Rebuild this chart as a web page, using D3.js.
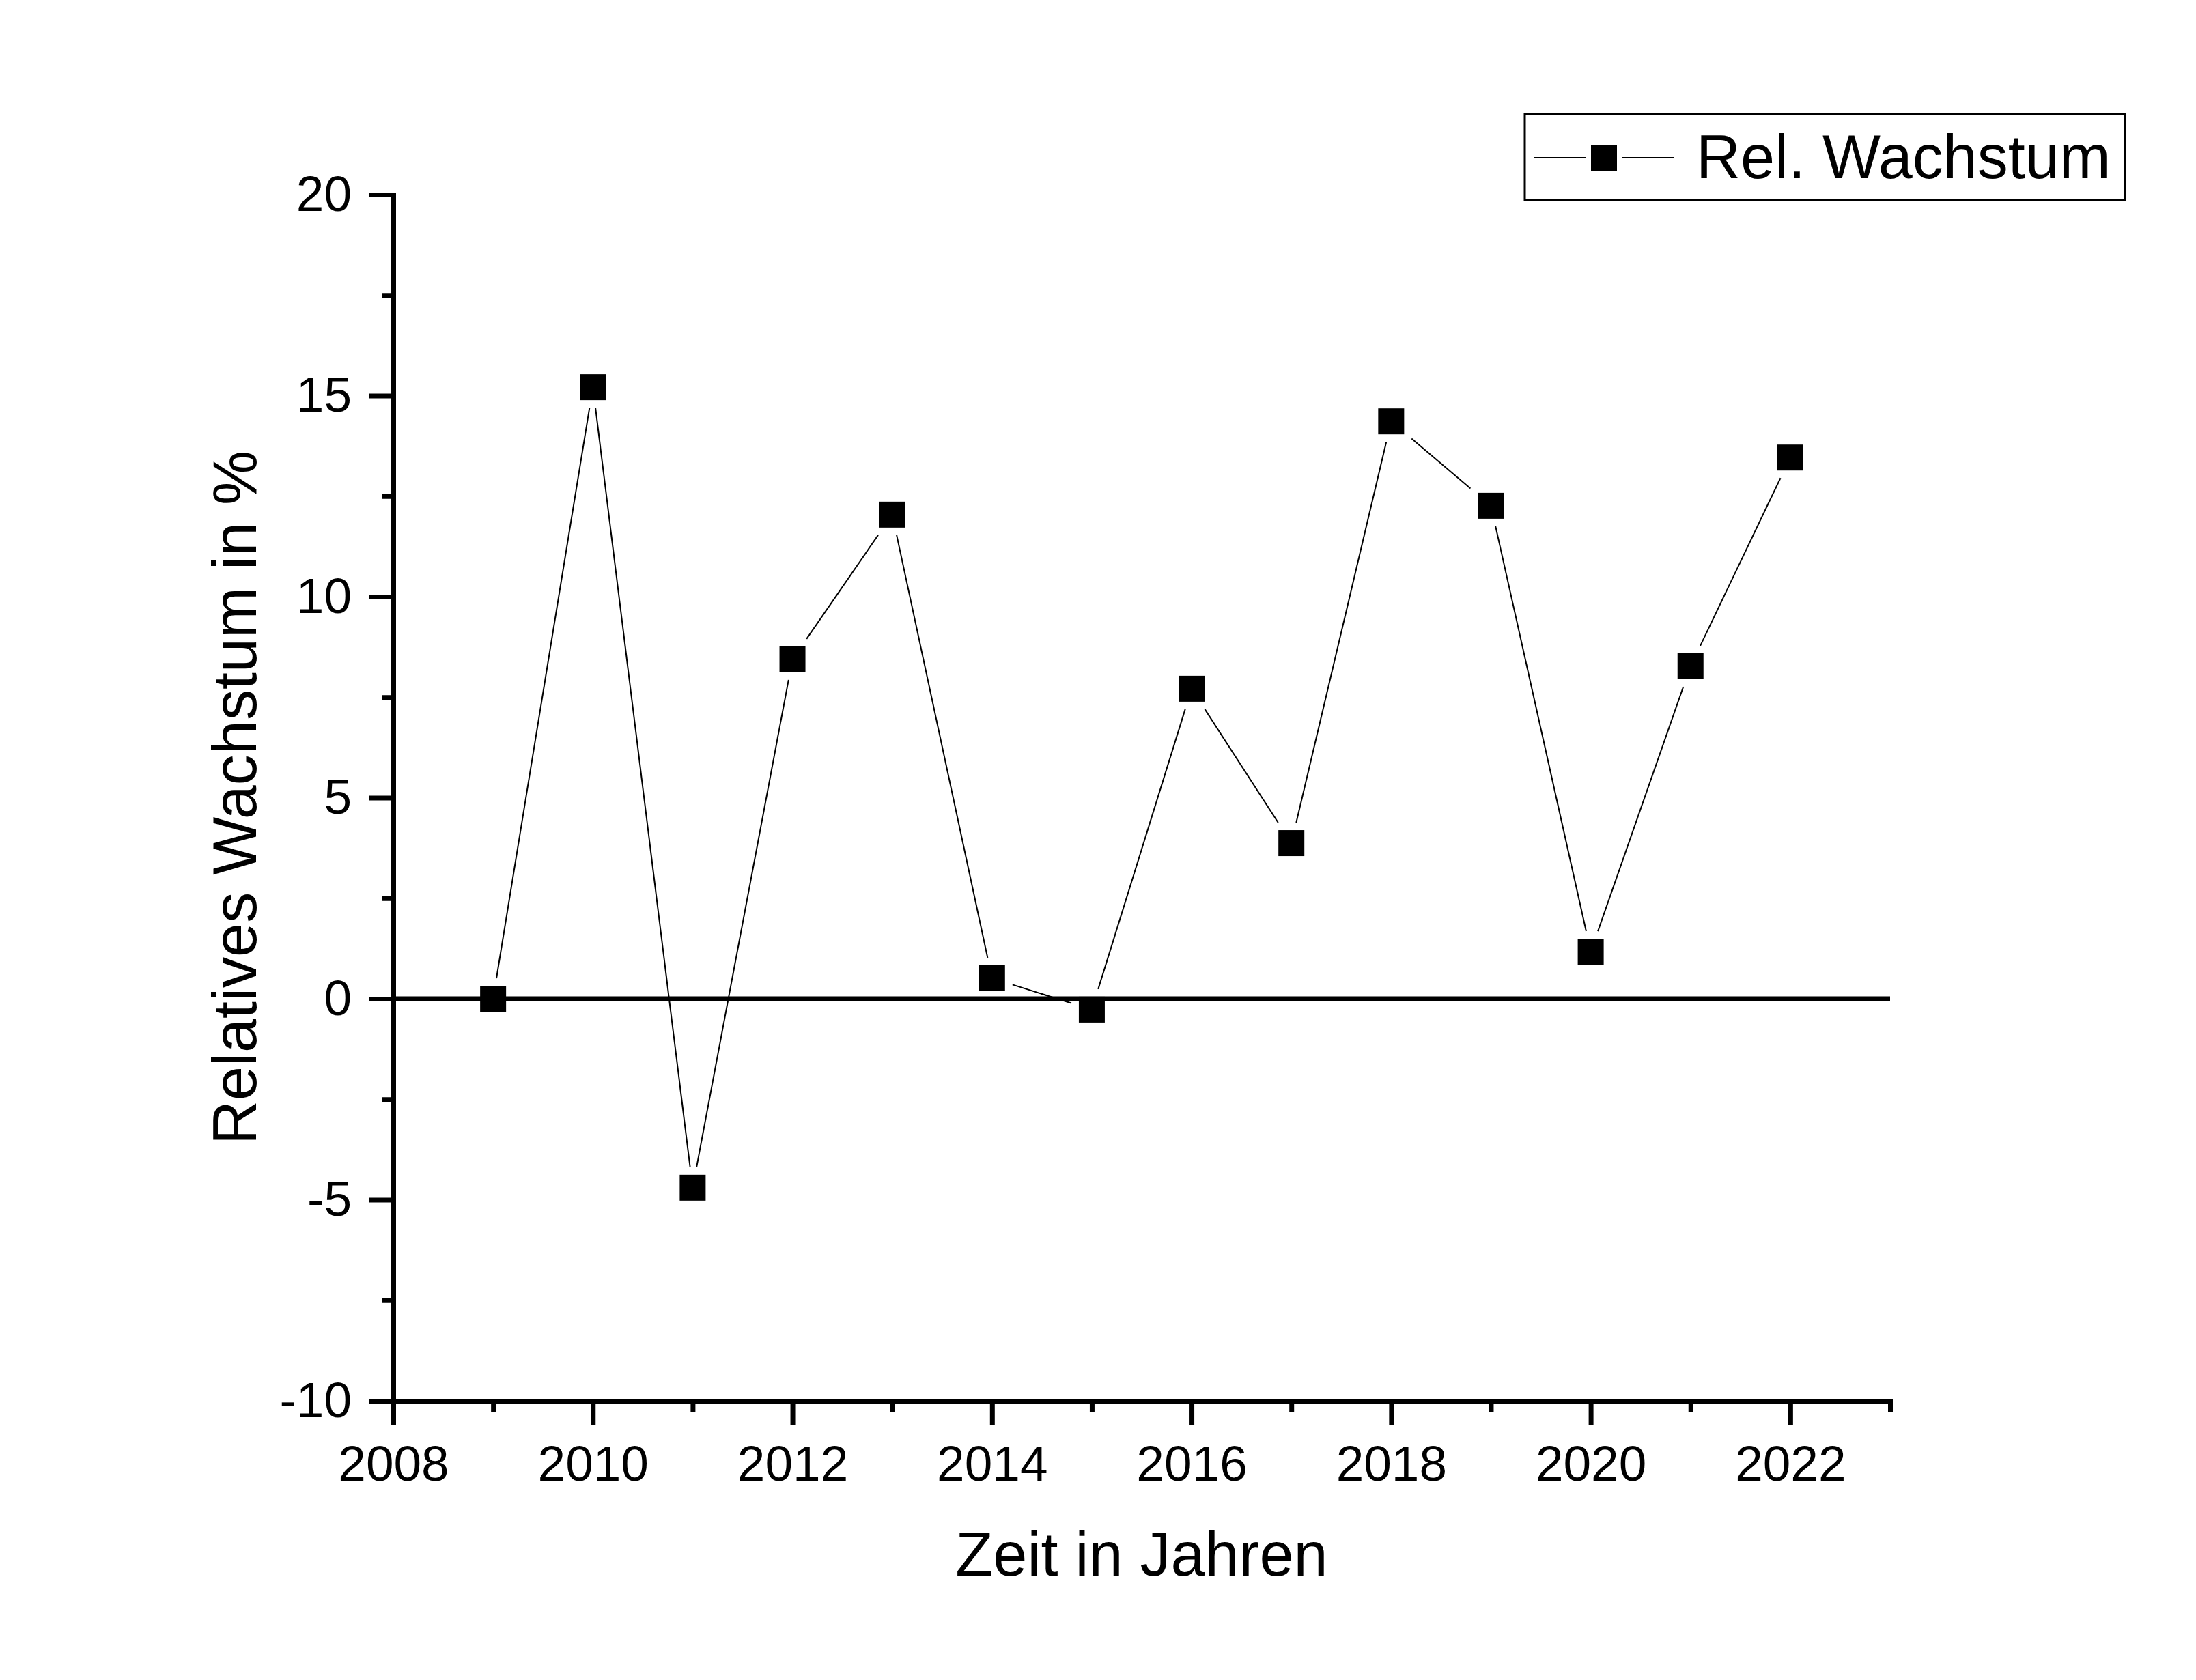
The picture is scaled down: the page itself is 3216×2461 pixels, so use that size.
<!DOCTYPE html>
<html>
<head>
<meta charset="utf-8">
<script src="https://cdn.jsdelivr.net/npm/d3@7"></script>
<style>
  html, body { margin: 0; padding: 0; background: #fff; }
  svg { display: block; }
  text { font-family: "Liberation Sans", Arial, sans-serif; fill: #000; }
</style>
</head>
<body>
<script>
// ---- data ----
const years = [2009, 2010, 2011, 2012, 2013, 2014, 2015, 2016, 2017, 2018, 2019, 2020, 2021, 2022];
const growth = [0, 15.21, -4.70, 8.44, 12.04, 0.51, -0.27, 7.71, 3.87, 14.36, 12.26, 1.17, 8.27, 13.46];
const xMajorTicks = [2008, 2010, 2012, 2014, 2016, 2018, 2020, 2022];
const xMinorTicks = [2009, 2011, 2013, 2015, 2017, 2019, 2021, 2023];
const yMajorTicks = [-10, -5, 0, 5, 10, 15, 20];
const yMinorTicks = [-7.5, -2.5, 2.5, 7.5, 12.5, 17.5];
const seriesName = "Rel. Wachstum";
const xTitle = "Zeit in Jahren";
const yTitle = "Relatives Wachstum in %";

// ---- layout ----
const W = 3216, H = 2461;
const plotL = 576, plotR = 2768, plotT = 285, plotB = 2052;
const tickFont = 73, titleFont = 90;

const svg = d3.select("body").append("svg").attr("width", W).attr("height", H);
svg.append("rect").attr("width", W).attr("height", H).attr("fill", "#fff");

const x = d3.scaleLinear().domain([2008, 2023]).range([plotL, plotR]);
const y = d3.scaleLinear().domain([-10, 20]).range([plotB, plotT]);

function styleAxis(g) {
  g.select(".domain").attr("stroke", "#000").attr("stroke-width", 7).attr("stroke-linecap", "square");
  g.selectAll(".tick line").attr("stroke", "#000").attr("stroke-width", 7);
  g.selectAll(".tick text").attr("font-size", tickFont).attr("fill", "#000")
    .style("font-family", '"Liberation Sans", Arial, sans-serif');
}

// minor ticks
svg.append("g").attr("transform", `translate(0,${plotB})`)
  .call(d3.axisBottom(x).tickValues(xMinorTicks).tickSize(16).tickSizeOuter(0).tickFormat(""))
  .call(g => { g.select(".domain").remove(); styleAxis(g); });
svg.append("g").attr("transform", `translate(${plotL},0)`)
  .call(d3.axisLeft(y).tickValues(yMinorTicks).tickSize(17).tickSizeOuter(0).tickFormat(""))
  .call(g => { g.select(".domain").remove(); styleAxis(g); });

// major axes
svg.append("g").attr("transform", `translate(0,${plotB})`)
  .call(d3.axisBottom(x).tickValues(xMajorTicks).tickSize(35).tickSizeOuter(0).tickPadding(30).tickFormat(d => String(d)))
  .call(styleAxis);
svg.append("g").attr("transform", `translate(${plotL},0)`)
  .call(d3.axisLeft(y).tickValues(yMajorTicks).tickSize(35).tickSizeOuter(0).tickPadding(26).tickFormat(d => String(d)))
  .call(styleAxis);

// zero line
svg.append("line")
  .attr("x1", x(2008)).attr("x2", x(2023))
  .attr("y1", y(0)).attr("y2", y(0))
  .attr("stroke", "#000").attr("stroke-width", 7);

// connecting line segments with gaps around markers
const pts = years.map((yr, i) => [x(yr), y(growth[i])]);
const gap = 30;
const segs = [];
for (let i = 0; i < pts.length - 1; i++) {
  const [x0, y0] = pts[i], [x1, y1] = pts[i + 1];
  const dx = x1 - x0, dy = y1 - y0;
  const t = gap / Math.max(Math.abs(dx), Math.abs(dy));
  segs.push([x0 + dx * t, y0 + dy * t, x1 - dx * t, y1 - dy * t]);
}
svg.append("g").selectAll("line").data(segs).join("line")
  .attr("x1", d => d[0]).attr("y1", d => d[1])
  .attr("x2", d => d[2]).attr("y2", d => d[3])
  .attr("stroke", "#000").attr("stroke-width", 2);

// markers
const ms = 38;
svg.append("g").selectAll("rect").data(years).join("rect")
  .attr("x", (d) => x(d) - ms / 2)
  .attr("y", (d, i) => y(growth[i]) - ms / 2)
  .attr("width", ms).attr("height", ms)
  .attr("fill", "#000");

// axis titles
svg.append("text").attr("x", (plotL + plotR) / 2).attr("y", 2308)
  .attr("text-anchor", "middle").attr("font-size", titleFont).text(xTitle);
svg.append("text")
  .attr("transform", `translate(375,${(plotT + plotB) / 2}) rotate(-90)`)
  .attr("text-anchor", "middle").attr("font-size", titleFont).text(yTitle);

// legend
const lg = svg.append("g");
lg.append("rect").attr("x", 2233).attr("y", 167).attr("width", 879).attr("height", 126)
  .attr("fill", "#fff").attr("stroke", "#000").attr("stroke-width", 3);
lg.append("line").attr("x1", 2247).attr("x2", 2323).attr("y1", 231).attr("y2", 231)
  .attr("stroke", "#000").attr("stroke-width", 2);
lg.append("line").attr("x1", 2376).attr("x2", 2451).attr("y1", 231).attr("y2", 231)
  .attr("stroke", "#000").attr("stroke-width", 2);
lg.append("rect").attr("x", 2349 - ms / 2).attr("y", 231 - ms / 2).attr("width", ms).attr("height", ms).attr("fill", "#000");
lg.append("text").attr("x", 2484).attr("y", 261).attr("font-size", titleFont).text(seriesName);
</script>
</body>
</html>
